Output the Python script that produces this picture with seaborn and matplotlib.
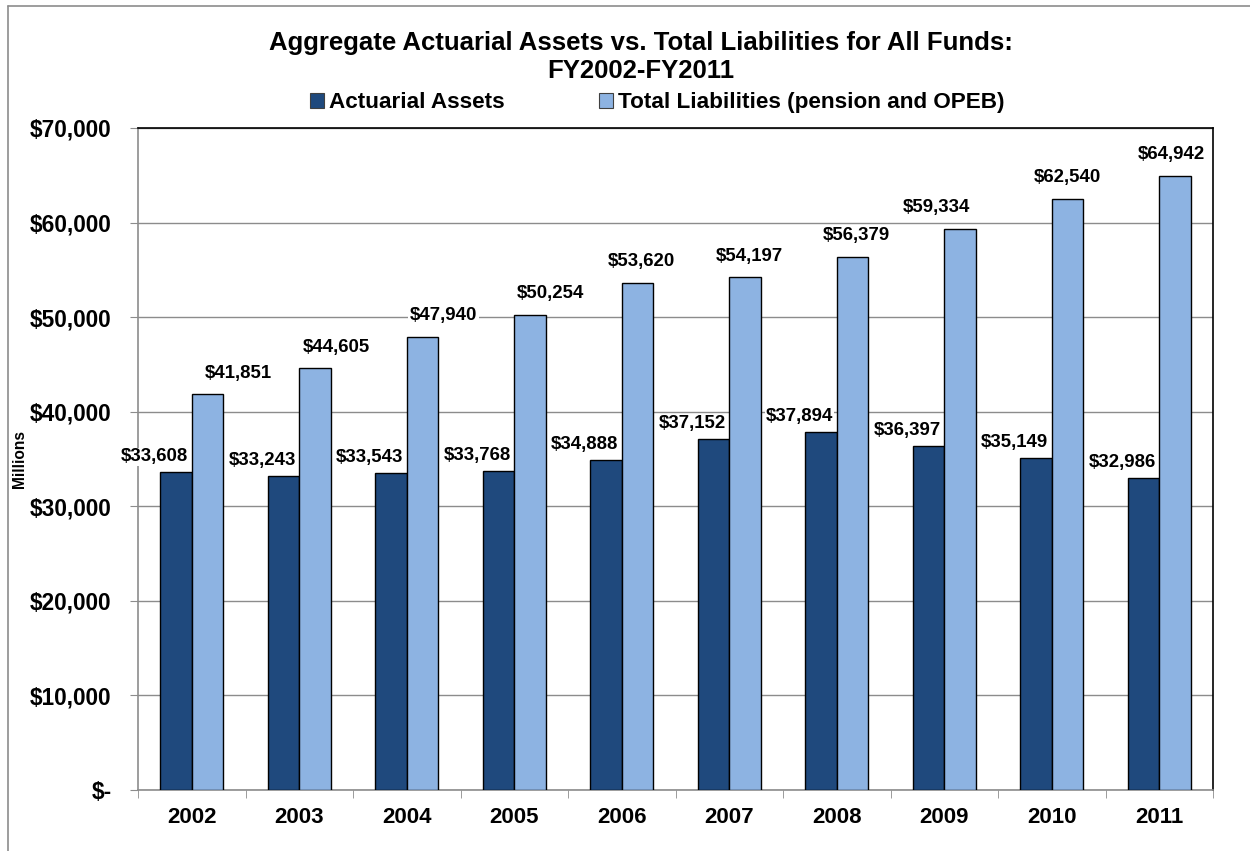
import numpy as np
import pandas as pd
import seaborn as sns
import matplotlib.pyplot as plt
from matplotlib.ticker import FuncFormatter, FixedLocator
from matplotlib.lines import Line2D

# Data (millions of dollars)
years = ['2002', '2003', '2004', '2005', '2006', '2007', '2008', '2009', '2010', '2011']
actuarial_assets = [33608, 33243, 33543, 33768, 34888, 37152, 37894, 36397, 35149, 32986]
total_liabilities = [41851, 44605, 47940, 50254, 53620, 54197, 56379, 59334, 62540, 64942]

series_names = ['Actuarial Assets', 'Total Liabilities (pension and OPEB)']
colors = ['#1F497D', '#8DB3E2']

# horizontal nudges (points) for the liability labels, as placed in the original
liab_label_shift = [22, 15, 15, 15, 3, 3, 3, -17, 0, -3]

df = pd.DataFrame({
    'Year': years * 2,
    'Series': [series_names[0]] * len(years) + [series_names[1]] * len(years),
    'Value': actuarial_assets + total_liabilities,
})

sns.set_style('white')
plt.rcParams['font.family'] = ['Liberation Sans', 'DejaVu Sans']
plt.rcParams['font.weight'] = 'bold'
plt.rcParams['text.color'] = 'black'
plt.rcParams['axes.labelcolor'] = 'black'

fig = plt.figure(figsize=(12.5, 8.51), dpi=100)
ax = fig.add_axes([0.1104, 0.0717, 0.86, 0.7779])

sns.barplot(data=df, x='Year', y='Value', hue='Series', hue_order=series_names,
            palette=colors, width=0.59, gap=0, edgecolor='black', linewidth=1,
            saturation=1, legend=False, ax=ax, zorder=3)

ax.set_ylim(0, 70000)
ax.set_xlim(-0.5, len(years) - 0.5)
ax.yaxis.set_major_locator(FixedLocator(np.arange(0, 70001, 10000)))
ax.yaxis.set_major_formatter(FuncFormatter(lambda v, p: '$-' if v == 0 else f'${v:,.0f}'))
ax.grid(axis='y', color='#8C8C8C', linewidth=1, zorder=0)
ax.set_axisbelow(True)

ax.tick_params(axis='y', which='major', direction='out', length=6, color='#8C8C8C',
               labelcolor='black', labelsize=16.3, pad=13, left=True)
ax.tick_params(axis='x', which='major', length=0, labelcolor='black', labelsize=16, pad=12)
ax.set_xticks(np.arange(-0.5, len(years), 1), minor=True)
ax.tick_params(axis='x', which='minor', direction='out', length=6, color='#8C8C8C', bottom=True)
for lbl in ax.get_xticklabels() + ax.get_yticklabels():
    lbl.set_fontweight('bold')

ax.set_xlabel('')
ax.set_ylabel('Millions', fontsize=11.2, fontweight='bold')
ax.yaxis.set_label_coords(-0.103, 0.5)

for side in ['left', 'bottom']:
    ax.spines[side].set_color('#8C8C8C')
for side in ['top', 'right']:
    ax.spines[side].set_color('black')
for s in ax.spines.values():
    s.set_linewidth(1.2)
    s.set_visible(True)

# data labels
asset_bars, liab_bars = ax.containers[0], ax.containers[1]
for bar, v in zip(asset_bars, actuarial_assets):
    x = bar.get_x() + bar.get_width()
    ax.annotate(f'${v:,.0f}', (x, v), xytext=(-2.5, 5), textcoords='offset points',
                ha='right', va='bottom', fontsize=13.4, fontweight='bold', zorder=5,
                bbox=dict(boxstyle='square,pad=0.03', fc='white', ec='none'))
for bar, v, dx in zip(liab_bars, total_liabilities, liab_label_shift):
    x = bar.get_x() + bar.get_width() / 2
    ax.annotate(f'${v:,.0f}', (x, v), xytext=(dx, 9), textcoords='offset points',
                ha='center', va='bottom', fontsize=13.4, fontweight='bold', zorder=5,
                bbox=dict(boxstyle='square,pad=0.1', fc='white', ec='none'))

# title
fig.text(0.513, 0.933, 'Aggregate Actuarial Assets vs. Total Liabilities for All Funds:\nFY2002-FY2011',
         ha='center', va='center', fontsize=18.5, fontweight='bold', linespacing=1.17)

# legend
handles = [plt.Rectangle((0, 0), 1, 1, fc=c, ec='#404040', lw=0.8) for c in colors]
fig.legend(handles, series_names, loc='center', bbox_to_anchor=(0.526, 0.879), ncol=2,
           frameon=False, prop={'size': 16.2, 'weight': 'bold'}, handlelength=0.6,
           handleheight=0.6, handletextpad=0.25, columnspacing=4.2)

# outer chart border (top and left edges visible)
fig.add_artist(Line2D([0.0064, 1.0], [0.993, 0.993], color='#8C8C8C', lw=1.2))
fig.add_artist(Line2D([0.0064, 0.0064], [0.0, 0.993], color='#8C8C8C', lw=1.2))

fig.savefig('out.png', dpi=100)
